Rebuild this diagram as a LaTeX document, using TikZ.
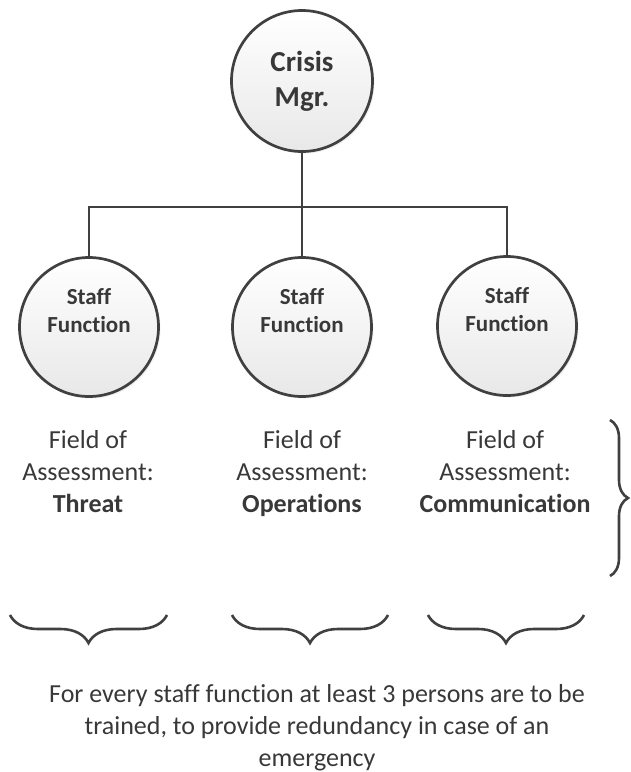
\documentclass[tikz,border=0pt]{standalone}
\usepackage{fontspec}
\setmainfont{Carlito}[Ligatures={NoCommon,NoContextual,NoDiscretionary}]
\usetikzlibrary{decorations.pathreplacing,shadows}
\definecolor{lin}{HTML}{404040}
\definecolor{txt}{HTML}{383838}
\begin{document}
\begin{tikzpicture}[x=1pt,y=1pt,
  circ/.style={circle, draw=lin, line width=2.7pt, minimum size=139pt, inner sep=0pt,
    top color=white, bottom color=black!9,
    drop shadow={opacity=0.12, shadow xshift=2pt, shadow yshift=-2pt}},
  conn/.style={draw=lin, line width=2.8pt},
  crisistxt/.style={align=center, text=txt, font=\fontsize{29pt}{35pt}\selectfont\bfseries},
  stafftxt/.style={align=center, text=txt, font=\fontsize{23pt}{28pt}\selectfont\bfseries},
  fieldtxt/.style={align=center, text=txt, font=\fontsize{26pt}{32pt}\selectfont},
  hbrace/.style={draw=lin, line width=2.6pt, decorate, decoration={brace, mirror, amplitude=28pt}},
  vbrace/.style={draw=lin, line width=2.6pt, decorate, decoration={brace, amplitude=18pt}}]
\useasboundingbox (0,0) rectangle (631,-772);

% circles
\node[circ, minimum size=141pt] (crisis) at (302,-81) {};
\node[crisistxt] (crisist) at (302,-81) {Crisis\\Mgr.};
\node[circ] (sf1) at (89,-327) {};
\node[circ] (sf2) at (302,-327) {};
\node[circ] (sf3) at (507,-326) {};
\node[stafftxt] (sf1t) at (89,-311) {Staff\\Function};
\node[stafftxt] (sf2t) at (302,-311) {Staff\\Function};
\node[stafftxt] (sf3t) at (507,-310) {Staff\\Function};

% connectors
\coordinate (bus) at (302,-207);
\draw[conn] (crisis.south) -- (sf2.north);
\draw[conn] (sf1.north) |- (bus) -| (sf3.north);

% fields
\node[fieldtxt] (f1) at (88,-472) {Field of\\Assessment:\\\textbf{Threat}};
\node[fieldtxt] (f2) at (302,-474) {Field of\\Assessment:\\\textbf{Operations}};
\node[fieldtxt] (f3) at (505,-472) {Field of\\Assessment:\\\textbf{Communication}};

% braces
\coordinate (b1a) at (10,-615);  \coordinate (b1b) at (167,-615);
\coordinate (b2a) at (232,-615); \coordinate (b2b) at (388,-615);
\coordinate (b3a) at (428,-615); \coordinate (b3b) at (584,-615);
\coordinate (vba) at (610,-420); \coordinate (vbb) at (610,-576);
\draw[hbrace] (b1a) -- (b1b);
\draw[hbrace] (b2a) -- (b2b);
\draw[hbrace] (b3a) -- (b3b);
\draw[vbrace] (vba) -- (vbb);

% note
\node[fieldtxt] (note) at (317,-728) {For every staff function at least 3 persons are to be\\trained, to provide redundancy in case of an\\emergency};
\end{tikzpicture}
\end{document}
